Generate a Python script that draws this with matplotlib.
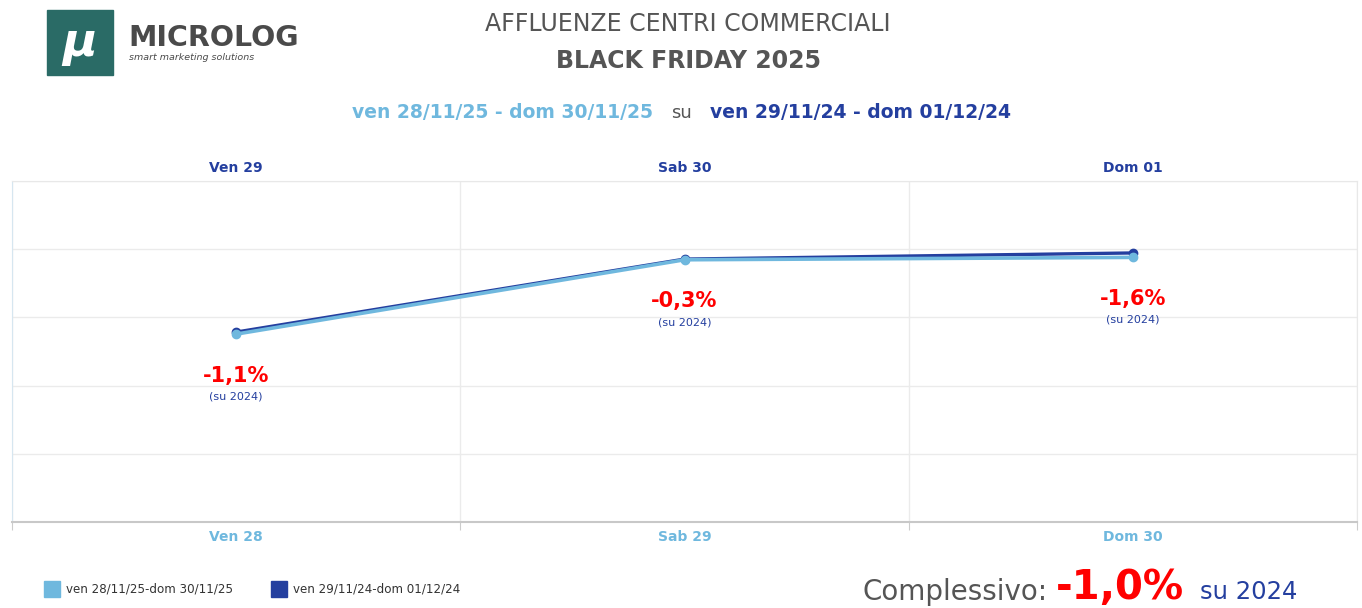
import matplotlib.pyplot as plt
from matplotlib.patches import Rectangle

# dati (indice affluenze, unità arbitrarie)
giorni_2025 = ["Ven 28", "Sab 29", "Dom 30"]
giorni_2024 = ["Ven 29", "Sab 30", "Dom 01"]
valori_2024 = [55.7, 77.1, 78.9]
valori_2025 = [55.1, 76.9, 77.6]
variazioni = ["-1,1%", "-0,3%", "-1,6%"]
etichette_legenda = ["ven 28/11/25-dom 30/11/25", "ven 29/11/24-dom 01/12/24"]

CHIARO = "#6fb8de"
SCURO = "#243f9f"
ROSSO = "#ff0000"
GRIGIO = "#555555"

W, H = 1362, 608
fig = plt.figure(figsize=(W / 100, H / 100), dpi=100)
plt.rcParams['font.family'] = ['DejaVu Sans']


def fx(px):
    return px / W


def fy(py):
    return 1 - py / H


ax = fig.add_axes([fx(12), fy(522), fx(1357) - fx(12), fy(181) - fy(522)])
x = list(range(len(giorni_2025)))
ax.plot(x, valori_2024, color=SCURO, lw=2.4, marker='o', ms=6, zorder=2)
ax.plot(x, valori_2025, color=CHIARO, lw=2.6, marker='o', ms=6, zorder=3)
ax.set_xlim(-0.5, 2.5)
ax.set_ylim(0, 100)
ax.set_yticks([0, 20, 40, 60, 80, 100])
ax.set_yticklabels([])
ax.set_xticks([-0.5, 0.5, 1.5, 2.5])
ax.set_xticklabels([])
ax.tick_params(axis='y', length=0)
ax.tick_params(axis='x', length=6, color="#cccccc")
ax.grid(True, color="#ebebeb", lw=1)
for s in ["top", "right"]:
    ax.spines[s].set_color("#e8e8e8")
ax.spines["left"].set_color("#d6e6f0")
ax.spines["bottom"].set_color("#c8c8c8")
ax.spines["bottom"].set_linewidth(1.5)

# etichette giorni
for i in x:
    xc = fx(12) + (i + 0.5) / 3 * (fx(1357) - fx(12))
    fig.text(xc, fy(537), giorni_2025[i], ha='center', va='center',
             color=CHIARO, fontsize=10, fontweight='bold')
    fig.text(xc, fy(168), giorni_2024[i], ha='center', va='center',
             color=SCURO, fontsize=10, fontweight='bold')

# variazioni sotto ogni punto
for i in x:
    ax.annotate(variazioni[i], (i, valori_2025[i]), xytext=(0, -30),
                textcoords='offset points', ha='center', va='center',
                color=ROSSO, fontsize=15, fontweight='bold')
    ax.annotate("(su 2024)", (i, valori_2025[i]), xytext=(0, -45),
                textcoords='offset points', ha='center', va='center',
                color=SCURO, fontsize=8)

# titolo
fig.text(fx(688), fy(24), "AFFLUENZE CENTRI COMMERCIALI", ha='center', va='center',
         color=GRIGIO, fontsize=17)
fig.text(fx(688), fy(61), "BLACK FRIDAY 2025", ha='center', va='center',
         color=GRIGIO, fontsize=17, fontweight='bold')
fig.text(fx(653), fy(113), "ven 28/11/25 - dom 30/11/25", ha='right', va='center',
         color=CHIARO, fontsize=13.5, fontweight='bold')
fig.text(fx(681), fy(113), "su", ha='center', va='center', color=GRIGIO, fontsize=13)
fig.text(fx(710), fy(113), "ven 29/11/24 - dom 01/12/24", ha='left', va='center',
         color=SCURO, fontsize=13.5, fontweight='bold')

# logo
fig.patches.append(Rectangle((fx(47), fy(75)), fx(113) - fx(47), fy(10) - fy(75),
                             transform=fig.transFigure, color="#2a6b66"))
fig.text(fx(80), fy(43), "μ", ha='center', va='center', color='white', fontsize=34,
         fontweight='bold', style='italic')
fig.text(fx(128), fy(38), "MICROLOG", ha='left', va='center', color="#4a4a4a",
         fontsize=20.5, fontweight='bold')
fig.text(fx(129), fy(57), "smart marketing solutions", ha='left', va='center',
         color="#4a4a4a", fontsize=6.8, style='italic')

# legenda
for px, col, lab in [(44, CHIARO, etichette_legenda[0]), (271, SCURO, etichette_legenda[1])]:
    fig.patches.append(Rectangle((fx(px), fy(597)), fx(16), 16 / H,
                                 transform=fig.transFigure, color=col))
    fig.text(fx(px + 22), fy(589), lab, ha='left', va='center', color="#333333", fontsize=8.6)

# complessivo
fig.text(fx(863), fy(592), "Complessivo:", ha='left', va='center', color=GRIGIO, fontsize=20)
fig.text(fx(1056), fy(588), "-1,0%", ha='left', va='center', color=ROSSO, fontsize=29,
         fontweight='bold')
fig.text(fx(1200), fy(592), "su 2024", ha='left', va='center', color=SCURO, fontsize=17.5)

fig.savefig("out.png", dpi=100)
